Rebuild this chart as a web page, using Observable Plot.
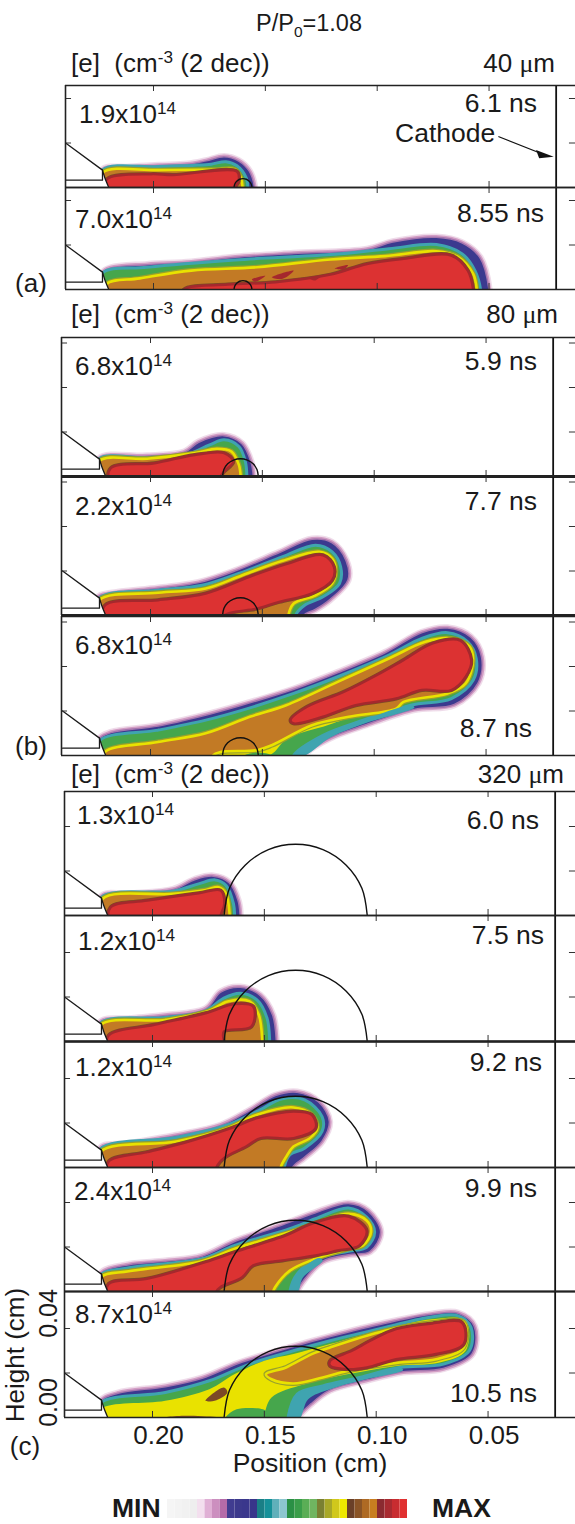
<!DOCTYPE html>
<html><head><meta charset="utf-8">
<script src="https://cdn.jsdelivr.net/npm/d3@7"></script>
<script src="https://cdn.jsdelivr.net/npm/@observablehq/plot@0.6"></script>
<style>
html,body{margin:0;padding:0;background:#fff}
#chart{position:relative;width:575px;height:1524px;overflow:hidden;font-family:"Liberation Sans",Arial,sans-serif;color:#1a1a1a}
.t{position:absolute;white-space:nowrap;line-height:1}
.t sup{font-size:.66em;line-height:0;vertical-align:.55em}
.t .mu{font-family:"Liberation Serif",serif}
</style></head><body><div id="chart"></div>
<script>
// all plasma outlines: position and height in micrometres
const poly=(xs,ys)=>xs.map((x,i)=>[x,ys[i]]).concat([[xs[xs.length-1],-40],[xs[0],-40]]);
const blob=(xs,ys)=>xs.map((x,i)=>[x,ys[i]]);

const a1Outer=poly([2228,2110,1979,1848,1766,1684,1619,1569,1545],[82,94,102,108,123,142,123,75,0]);
const a1Green=poly([2228,1979,1815,1742,1676,1627,1586,1578],[78,94,100,105,116,98,45,0]);
const a1Orange=poly([2228,1979,1733,1635,1610,1602],[66,78,80,80,45,0]);
const a1Red=poly([2208,2011,1913,1627,1619,1635],[37,60,56,72,30,0]);

const a2Outer=poly([2228,2192,2028,1831,1635,1373,1046,931,735,620,538,497],[78,100,115,126,148,165,183,217,238,213,145,0]);
const a2Green=poly([2228,2028,1635,1209,947,735,620,563,538],[73,100,133,157,183,202,160,85,0]);
const a2Orange=poly([2208,2061,1831,1537,1209,964,735,636,571,555],[25,50,85,100,135,150,172,145,70,0]);
const a2Red=poly([1864,1668,1455,1209,1046,882,669,595,571],[0,22,33,67,115,138,153,85,0]);
const a2Bit1=blob([1471,1373,1422],[55,85,48]);
const a2Bit2=blob([1300,1250,1280],[48,62,40]);
const a2Bit3=blob([1560,1500,1545],[45,62,35]);
const a2Bit4=blob([1190,1130,1150],[95,110,90]);

const b1Outer=poly([2231,2015,1851,1786,1671,1589,1548,1537],[82,95,112,157,187,150,67,0]);
const b1Green=poly([2231,2015,1835,1736,1671,1605,1576,1569],[78,85,100,142,165,135,67,0]);
const b1Orange=poly([2228,2015,1802,1704,1638,1605,1597],[70,80,105,124,112,52,0]);
const b1Red=poly([2178,1982,1802,1671,1630,1671,1687],[37,60,97,105,67,22,0]);

const b2Outer=poly([2236,2178,1966,1786,1622,1425,1278,1188,1123,1114,1196,1262,1311],[84,102,126,151,204,286,346,331,249,159,69,24,0]);
const b2Green=poly([2231,1966,1769,1605,1409,1262,1188,1150,1155,1229,1311,1352],[76,114,136,189,264,316,286,219,144,84,46,0]);
const b2Orange=poly([2228,1966,1753,1589,1409,1246,1188,1172,1188,1262,1360,1384],[69,102,121,181,246,286,256,204,144,91,54,0]);
const b2Red=poly([2203,1966,1753,1557,1393,1229,1180,1188,1278,1425,1524,1671],[46,69,99,174,231,271,219,159,99,61,31,0]);

const b3Outer=poly([2231,2178,1966,1769,1605,1360,1163,951,787,672,566,517,533,640,820,1033,1196,1311],[76,106,136,181,226,301,376,466,556,576,534,444,324,226,204,136,76,0]);
const b3Green=poly([2228,1966,1753,1589,1360,1163,934,787,672,582,544,557,655,836,1049,1229,1360],[66,114,159,204,279,354,451,526,552,511,436,339,256,226,159,91,0]);
const b3Yellow=blob([1720,1671,1524,1291,1127,1209,1389,1470],[-6,39,61,136,166,136,76,0]);
const b3Orange=poly([2203,1966,1753,1556,1393,1163,934,771,656,574,558,591,672,869,902,1114,1278,1458,1524,1687,1720],[16,61,100,174,226,331,436,511,526,489,429,324,279,241,211,174,136,46,24,16,0]);
const b3Red=blob([1374,1300,1136,989,869,738,615,566,591,655,787,902,1083,1229,1360],[159,219,286,361,429,504,516,429,354,294,294,256,226,174,144]);
const b3GreenBit=blob([1581,1524,1450,1581],[0,13,0,-10]);
const b3Teal=blob([1360,1229,1049,836,820,1033,1196,1311],[0,91,159,226,216,147,81,0]);

const c1Outer=poly([2228,2105,1908,1810,1728,1655,1614,1605],[90,100,120,165,180,150,67,0]);
const c1Green=poly([2228,1908,1794,1720,1671,1638,1633],[82,109,142,160,135,52,0]);
const c1Orange=poly([2223,1908,1761,1704,1671,1655],[75,97,115,127,97,0]);
const c1Red=poly([2187,2023,1794,1695,1679,1695],[37,67,100,112,52,0]);

const c2Outer=poly([2234,2106,1943,1763,1697,1607,1517,1460,1443],[90,105,120,150,225,247,210,120,0]);
const c2Green=poly([2234,1943,1763,1681,1607,1533,1488,1476],[82,108,138,195,217,187,105,0]);
const c2Orange=poly([2229,1943,1746,1664,1566,1525,1509],[75,97,138,180,180,120,0]);
const c2Red=poly([2196,1992,1763,1632,1550,1558,1681,1681],[27,75,127,168,157,67,45,0]);

const c3Outer=poly([2234,2106,1894,1697,1566,1452,1353,1255,1206,1239,1320,1370],[90,110,147,192,260,327,342,297,207,117,42,0]);
const c3Green=poly([2234,1894,1664,1533,1419,1320,1242,1242,1320,1386,1411],[82,135,192,252,309,304,229,162,87,57,0]);
const c3Orange=poly([2229,1894,1664,1533,1370,1288,1263,1296,1370,1402,1427],[72,117,177,237,270,237,177,132,94,49,0]);
const c3Red=poly([2196,2025,1861,1648,1533,1369,1288,1271,1369,1516,1582,1681,1714],[27,69,110,177,222,252,237,177,132,132,94,42,0]);

const c4Outer=poly([2234,2106,1943,1779,1632,1435,1272,1124,1034,977,1026,1124,1239,1321,1350],[82,124,139,162,229,297,357,399,364,267,177,162,132,49,0]);
const c4Green=poly([2234,2106,1779,1632,1386,1272,1124,1043,1007,1043,1124,1255,1353,1386],[72,107,147,207,282,327,375,334,267,199,181,151,79,0]);
const c4Orange=poly([2229,2106,1779,1632,1386,1255,1124,1043,1023,1059,1124,1272,1386,1452,1460],[64,91,136,192,267,312,349,319,267,207,192,147,94,19,0]);
const c4Red=poly([2196,2025,1763,1632,1403,1288,1124,1043,1075,1173,1272,1419,1550,1599,1697,1714],[34,57,132,177,252,304,337,274,207,184,162,139,117,64,19,0]);
const c4Teal=blob([1386,1353,1255,1239,1329,1350],[0,79,151,139,61,0]);

const c5Outer=poly([2234,2156,1943,1779,1615,1370,1206,960,748,633,559,568,699,879,1042,1206,1288,1345],[75,112,142,180,247,322,367,427,468,472,412,285,217,202,165,120,60,0]);
const c5Green=poly([2234,1943,1746,1566,1370,1206,960,748,633,576,584,699,895,1075,1239,1353,1394],[63,112,165,240,300,345,405,453,457,405,300,240,225,180,142,105,0]);
const c5Yellow=poly([2229,1943,1746,1632,1500,1370,1206,960,748,600,600,716,911,1124,1321,1468,1501],[37,75,127,195,255,285,330,397,442,435,300,247,232,195,150,90,0]);
const c5Orange=blob([1493,1403,1288,1206,960,748,609,609,732,895,1124,1239,1370,1468],[195,225,285,315,390,427,427,315,262,247,210,180,153,172]);
const c5Red=blob([1206,1108,1026,911,748,617,609,732,911,1042,1124,1206],[255,300,345,397,423,427,330,285,262,225,217,232]);
const c5GreenBit=blob([1673,1624,1493,1493,1673],[0,37,30,0,-10]);
const c5Bit1=blob([1763,1681,1665,1714],[75,135,112,78]);
const c5Bit2=blob([1943,1860,1700,1860],[0,8,0,-10]);
const c5Teal=blob([1394,1353,1239,1075,895,879,1059,1206,1304,1345],[-8,105,142,180,225,213,168,127,82,-8]);

const coneLine=[[2393,200],[2228,78],[2228,33],[2393,33]];
const coneMask=[[2393,-40],[2393,200],[2228,78],[2218,45],[2200,0],[2200,-40]];
const anodeArc=[[2228,78],[2218,45],[2200,0]];

const dropA=[[1640,0],[1637,15],[1628,28],[1615,37],[1600,40],[1585,37],[1572,28],[1563,15],[1560,0]];
const dropB=[[1678,0],[1672,31],[1655,57],[1629,74],[1598,80],[1567,74],[1541,57],[1524,31],[1518,0]];
const dropC=[[1680,0],[1656,122],[1586,226],[1482,296],[1360,320],[1238,296],[1134,226],[1064,122],[1040,0]];

const xTicks=[2000,1500,1000,500];
const yTicks=[200,400,600];
const cathodeX=200;
const arrowLine=[[456,228],[250,146]];
const arrowHead=[[290,168],[211,138],[276,132]];

const densities=["1.9","7.0","6.8","2.2","6.8","1.3","1.2","1.2","2.4","8.7"];
const times=["6.1 ns","8.55 ns","5.9 ns","7.7 ns","8.7 ns","6.0 ns","7.5 ns","9.2 ns","9.9 ns","10.5 ns"];
const radii=["40","80","320"];
const legendColors=["#f5f5f5","#f3f3f3","#f1f1f1","#eeeeee","#f3dfee","#e0b0d5","#cc8fbf","#b46ba8","#403c90","#3c398c","#3a378c","#38358a","#1a7f86","#169199","#60b0ba","#8cc6cf","#2a9045","#3a9e4a","#5aae56","#70b560","#7a8032","#a8a828","#d0c81c","#eee800","#6a4028","#8a5426","#ae6a24","#c87e20","#8a2a30","#a82a30","#c82c30","#e03030"];

const C={blue:"#3b3a8f",halo:"#c98ab8",teal:"#3fa4b0",green:"#46a64c",olive:"#98a02c",yellow:"#e9e200",orange:"#c27a25",brown:"#7c4a26",dark:"#a5282d",red:"#dc3232"};
const root=document.getElementById("chart");
const K=0.2237, KY=0.2225;

const panels=[
 {top:85,bottom:187,left:65,tick:153,w:1.6,drop:dropA,l:[a1Outer,a1Green,null,a1Orange,a1Red],bits:[]},
 {top:187,bottom:289,left:65,tick:153,w:1.6,drop:dropA,l:[a2Outer,a2Green,null,a2Orange,a2Red],bits:[[a2Bit1,C.dark],[a2Bit2,C.dark],[a2Bit3,C.dark],[a2Bit4,C.dark]]},
 {top:337,bottom:476,left:61,tick:150,w:3,drop:dropB,l:[b1Outer,b1Green,null,b1Orange,b1Red],bits:[]},
 {top:476,bottom:615,left:61,tick:150,w:3,drop:dropB,l:[b2Outer,b2Green,null,b2Orange,b2Red],bits:[]},
 {top:616,bottom:755,left:61,tick:150,w:1.6,drop:dropB,l:[b3Outer,b3Green,b3Yellow,b3Orange,b3Red],bits:[[b3GreenBit,C.green],[b3Teal,C.teal]]},
 {top:791,bottom:915,left:64,tick:152,w:1.6,drop:dropC,l:[c1Outer,c1Green,null,c1Orange,c1Red],bits:[]},
 {top:915,bottom:1041,left:64,tick:152,w:2.6,drop:dropC,l:[c2Outer,c2Green,null,c2Orange,c2Red],bits:[]},
 {top:1041,bottom:1167,left:64,tick:152,w:1.6,drop:dropC,l:[c3Outer,c3Green,null,c3Orange,c3Red],bits:[]},
 {top:1167,bottom:1291,left:64,tick:152,w:2,drop:dropC,l:[c4Outer,c4Green,null,c4Orange,c4Red],bits:[[c4Teal,C.teal]]},
 {top:1291,bottom:1417,left:64,tick:152,w:1.6,drop:dropC,l:[c5Outer,c5Green,c5Yellow,c5Orange,c5Red],bits:[[c5GreenBit,C.green],[c5Bit1,C.brown],[c5Bit2,C.brown],[c5Teal,C.teal]],axis:true}
];
const P={x:d=>d[0],y:d=>d[1],curve:"catmull-rom-closed",clip:true};
panels.forEach(p=>{
 const h=p.bottom-p.top, yMax=h/KY;
 const xL=2000+(p.tick-p.left)/K, xR=2000-(575-p.tick)/K;
 const tk=27;
 const marks=[];
 const [o,g,y,r,c]=p.l;
 marks.push(Plot.line(o,{...P,stroke:C.halo,strokeWidth:6,strokeOpacity:.3}));
 marks.push(Plot.line(o,{...P,fill:C.blue,stroke:C.halo,strokeWidth:3,strokeOpacity:.75}));
 marks.push(Plot.line(g,{...P,fill:C.green,stroke:C.teal,strokeWidth:3}));
 if(y) marks.push(Plot.line(y,{...P,fill:C.yellow}));
 marks.push(Plot.line(r,{...P,stroke:C.olive,strokeWidth:5}));
 marks.push(Plot.line(r,{...P,fill:C.orange,stroke:C.yellow,strokeWidth:2.6}));
 marks.push(Plot.line(c,{...P,stroke:C.brown,strokeWidth:4}));
 marks.push(Plot.line(c,{...P,fill:C.red,stroke:C.dark,strokeWidth:2.5}));
 p.bits.forEach(([b,col])=>marks.push(Plot.line(b,{...P,fill:col})));
 marks.push(Plot.line(coneMask,{x:d=>d[0],y:d=>d[1],fill:"white",stroke:"none",clip:true}));
 marks.push(Plot.line(coneLine,{x:d=>d[0],y:d=>d[1],stroke:"#1a1a1a",strokeWidth:1.3,clip:true}));
 marks.push(Plot.line(anodeArc,{x:d=>d[0],y:d=>d[1],curve:"catmull-rom",stroke:"#1a1a1a",strokeWidth:1.3,clip:true}));
 marks.push(Plot.line(p.drop,{x:d=>d[0],y:d=>d[1],curve:"catmull-rom",stroke:"#111",strokeWidth:1.4,clip:true}));
 const ys=yTicks.filter(v=>v<yMax-20);
 marks.push(Plot.ruleX(xTicks,{x:d=>d,y1:0,y2:tk,stroke:"#333",strokeWidth:1}));
 marks.push(Plot.ruleX(xTicks,{x:d=>d,y1:yMax,y2:yMax-tk,stroke:"#333",strokeWidth:1}));
 marks.push(Plot.ruleY(ys,{y:d=>d,x1:xL,x2:xL-tk,stroke:"#333",strokeWidth:1}));
 marks.push(Plot.ruleY(ys,{y:d=>d,x1:xR,x2:xR+tk,stroke:"#333",strokeWidth:1}));
 marks.push(Plot.ruleX([xL],{stroke:"#222",strokeWidth:1.6}));
 marks.push(Plot.ruleX([cathodeX],{stroke:"#111",strokeWidth:1.8}));
 marks.push(Plot.ruleY([yMax],{stroke:"#222",strokeWidth:1.6}));
 marks.push(Plot.ruleY([0],{stroke:"#222",strokeWidth:p.w}));
 if(p===panels[0]){
  marks.push(Plot.line(arrowLine,{x:d=>d[0],y:d=>d[1],stroke:"#111",strokeWidth:1.3}));
  marks.push(Plot.line(arrowHead,{x:d=>d[0],y:d=>d[1],fill:"#111",stroke:"none"}));
 }
 if(p.axis){
  marks.push(Plot.axisX(xTicks,{tickSize:0,tickPadding:8,dx:6,fontSize:26,label:null,tickFormat:d=>(d/10000).toFixed(2),stroke:"none",fill:"#1a1a1a"}));
  marks.push(Plot.axisY([0,400],{anchor:"left",tickSize:0,tickPadding:8,dy:-15,tickRotate:-90,fontSize:25,label:null,tickFormat:d=>(d/10000).toFixed(2),fill:"#1a1a1a"}));
 }
 const mb=p.axis?40:1;
 const svg=Plot.plot({width:575,height:h+1+mb,marginLeft:p.left,marginRight:0,marginTop:1,marginBottom:mb,
  x:{domain:[xL,xR],axis:null},y:{domain:[0,yMax],axis:null},
  style:{position:"absolute",left:"0px",top:(p.top-1)+"px",background:"transparent",fontFamily:"'Liberation Sans',Arial,sans-serif",overflow:"visible"},
  marks});
 root.appendChild(svg);
});

// color legend
const legend=Plot.plot({width:575,height:19,marginLeft:167,marginRight:168,marginTop:0,marginBottom:0,
 x:{domain:[0,legendColors.length],axis:null},y:{axis:null},color:{type:"identity"},
 style:{position:"absolute",left:"0px",top:"1499px",background:"transparent"},
 marks:[Plot.rectY(legendColors,{x1:(d,i)=>i,x2:(d,i)=>i+1,y1:0,y2:1,fill:d=>d})]});
root.appendChild(legend);

// text
function T(html,x,base,size,anchor,extra){
 const d=document.createElement("div");d.className="t";d.innerHTML=html;
 d.style.fontSize=size+"px";d.style.top=(base-0.8465*size)+"px";
 if(anchor==="end"){d.style.right=(575-x)+"px"}
 else if(anchor==="middle"){d.style.left=x+"px";d.style.transform="translateX(-50%)"}
 else d.style.left=x+"px";
 if(extra)d.style.cssText+=extra;
 root.appendChild(d);
}
const dens=[[79,123],[75,228],[75,375],[75,515],[75,654],[77,824],[78,950],[75,1076],[74,1200],[75,1323]];
const tim=[[537,112],[544,222],[537,370],[537,510],[532,737],[539,829],[544,944],[542,1071],[537,1197],[537,1402]];
densities.forEach((v,i)=>T(v+"x10<sup>14</sup>",dens[i][0],dens[i][1],26));
times.forEach((v,i)=>T(v,tim[i][0],tim[i][1],26.5,"end"));
T("P/P<sub style='font-size:.66em;line-height:0'>0</sub>=1.08",309,32,23.5,"middle");
[[71,72],[71,323],[71,783]].forEach(([x,y])=>T("[e]&nbsp; (cm<sup>-3</sup> (2 dec))",x,y,26));
[[555,72],[558,323],[564,783]].forEach(([x,y],i)=>T(radii[i]+" <span class='mu'>μ</span>m",x,y,26,"end"));
T("Cathode",395,142,26.5);
T("(a)",31,292,26,"middle");T("(b)",31,755,26,"middle");T("(c)",25,1455,26,"middle");
T("Position (cm)",310,1472,26.5,"middle");
T("MIN",112,1517,26.5,"start","font-weight:bold");
T("MAX",432,1517,26.5,"start","font-weight:bold");
const ht=document.createElement("div");ht.className="t";ht.textContent="Height (cm)";
ht.style.cssText+="font-size:26px;left:15px;top:1355px;transform:translate(-50%,-50%) rotate(-90deg)";
root.appendChild(ht);
</script></body></html>
